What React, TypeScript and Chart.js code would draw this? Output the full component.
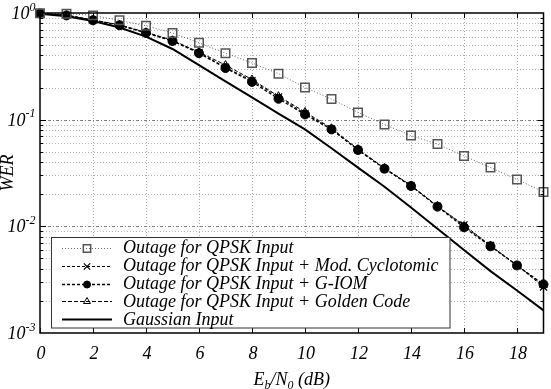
import { useEffect, useRef } from 'react';
import { Chart, registerables } from 'chart.js';
import { drawPoint } from 'chart.js/helpers';

Chart.register(...registerables);

// ---------- data ----------
const snrDb = [0, 1, 2, 3, 4, 5, 6, 7, 8, 9, 10, 11, 12, 13, 14, 15, 16, 17, 18, 19];
const qpskOutage = [0.995, 0.985, 0.95, 0.854, 0.76, 0.65, 0.525, 0.42, 0.34, 0.27, 0.2, 0.156, 0.117, 0.09, 0.071, 0.059, 0.0457, 0.0356, 0.0275, 0.021];
const cyclotomicOutage = [0.99, 0.95, 0.86, 0.77, 0.655, 0.55, 0.425, 0.31, 0.232, 0.163, 0.114, 0.082, 0.052, 0.0347, 0.024, 0.0154, 0.0103, 0.0066, 0.0043, 0.0027];
const giomOutage = [0.99, 0.95, 0.855, 0.767, 0.65, 0.547, 0.42, 0.305, 0.226, 0.157, 0.112, 0.081, 0.052, 0.0347, 0.0239, 0.0153, 0.0098, 0.0065, 0.0043, 0.00286];
const goldenOutage = [0.99, 0.955, 0.86, 0.775, 0.66, 0.555, 0.43, 0.325, 0.238, 0.166, 0.118, 0.083, 0.053, 0.0352, 0.0242, 0.0155, 0.0101, 0.0066, 0.0043, 0.0028];
const gaussianOutage = [0.985, 0.93, 0.84, 0.73, 0.6, 0.46, 0.325, 0.229, 0.162, 0.114, 0.081, 0.054, 0.0355, 0.0235, 0.015, 0.0095, 0.006, 0.0038, 0.0025, 0.00163];

const xTickValues = [0, 2, 4, 6, 8, 10, 12, 14, 16, 18];
const yDecadeValues = [1, 0.1, 0.01, 0.001];
const yDecadeExponents = ['0', '-1', '-2', '-3'];
const seriesLabels = [
  'Outage for QPSK Input',
  'Outage for QPSK Input + Mod. Cyclotomic',
  'Outage for QPSK Input + G-IOM',
  'Outage for QPSK Input + Golden Code',
  'Gaussian Input',
];

const SERIF = '"Liberation Serif", "Times New Roman", serif';

const toPoints = (ys: number[]) => snrDb.map((x, i) => ({ x, y: ys[i] }));

const decorPlugin = {
  id: 'gnuplotDecor',
  beforeDatasetsDraw(chart: any) {
    const { ctx, chartArea: a, scales } = chart;
    const xs = scales.x;
    const ys = scales.y;
    ctx.save();
    ctx.lineWidth = 1;
    // vertical grid
    ctx.strokeStyle = '#a8a8a8';
    ctx.setLineDash([1, 2]);
    for (const v of xTickValues) {
      if (v === 0) continue;
      const px = Math.round(xs.getPixelForValue(v)) + 0.5;
      ctx.beginPath();
      ctx.moveTo(px, a.top);
      ctx.lineTo(px, a.bottom);
      ctx.stroke();
    }
    // horizontal grid
    for (let d = 1; d < yDecadeValues.length; d++) {
      const dec = yDecadeValues[d];
      for (let m = 1; m <= 9; m++) {
        const v = dec * m;
        if (v >= 1 || v <= 0.001 + 1e-12) continue;
        const py = Math.round(ys.getPixelForValue(v)) + 0.5;
        if (m === 1) {
          ctx.strokeStyle = '#808080';
          ctx.setLineDash([3, 2, 1, 2]);
        } else {
          ctx.strokeStyle = '#b4b4b4';
          ctx.setLineDash([1, 2]);
        }
        ctx.beginPath();
        ctx.moveTo(a.left, py);
        ctx.lineTo(a.right, py);
        ctx.stroke();
      }
    }
    ctx.restore();
  },
  afterDatasetsDraw(chart: any) {
    const { ctx, chartArea: a, scales } = chart;
    const xs = scales.x;
    const ys = scales.y;
    ctx.save();
    ctx.setLineDash([]);
    ctx.strokeStyle = '#000';
    ctx.lineWidth = 1;
    // y tick marks (in, mirrored)
    for (let d = 1; d < yDecadeValues.length; d++) {
      const dec = yDecadeValues[d];
      for (let m = 1; m <= 9; m++) {
        const v = dec * m;
        if (v >= 1 || v <= 0.001 + 1e-12) continue;
        const py = Math.round(ys.getPixelForValue(v)) + 0.5;
        const len = m === 1 ? 6 : 3;
        ctx.beginPath();
        ctx.moveTo(a.left, py);
        ctx.lineTo(a.left + len, py);
        ctx.moveTo(a.right, py);
        ctx.lineTo(a.right - len, py);
        ctx.stroke();
      }
    }
    // x tick marks
    for (const v of xTickValues) {
      const px = Math.round(xs.getPixelForValue(v)) + 0.5;
      ctx.beginPath();
      ctx.moveTo(px, a.bottom);
      ctx.lineTo(px, a.bottom - 5);
      ctx.moveTo(px, a.top);
      ctx.lineTo(px, a.top + 5);
      ctx.stroke();
    }
    // frame
    ctx.lineWidth = 1.5;
    ctx.strokeRect(a.left, a.top, a.right - a.left, a.bottom - a.top);

    // legend
    const lx = 51.5, ly = 237.5, lw = 398.5, lh = 90.5;
    ctx.fillStyle = '#fff';
    ctx.fillRect(lx, ly, lw, lh);
    ctx.lineWidth = 1;
    ctx.strokeStyle = '#333';
    ctx.strokeRect(lx, ly, lw, lh);
    ctx.font = `italic 18px ${SERIF}`;
    ctx.textAlign = 'left';
    ctx.textBaseline = 'alphabetic';
    chart.data.datasets.forEach((ds: any, i: number) => {
      const ry = 247.7 + i * 17.9;
      ctx.save();
      ctx.strokeStyle = ds.borderColor;
      ctx.lineWidth = ds.borderWidth;
      ctx.setLineDash(ds.borderDash || []);
      ctx.beginPath();
      ctx.moveTo(62, Math.round(ry) + 0.5);
      ctx.lineTo(112, Math.round(ry) + 0.5);
      ctx.stroke();
      ctx.setLineDash([]);
      if (ds.pointRadius > 0) {
        ctx.strokeStyle = ds.pointBorderColor;
        ctx.fillStyle = ds.pointBackgroundColor;
        ctx.lineWidth = ds.pointBorderWidth;
        drawPoint(ctx, { pointStyle: ds.pointStyle, radius: ds.legendRadius, rotation: 0, borderWidth: ds.pointBorderWidth } as any, 87, Math.round(ry) + 0.5);
      }
      ctx.restore();
      ctx.fillStyle = '#000';
      ctx.fillText(seriesLabels[i], 123, ry + 5.5);
    });

    // x tick labels
    ctx.fillStyle = '#000';
    ctx.font = `italic 18px ${SERIF}`;
    ctx.textAlign = 'center';
    for (const v of xTickValues) {
      const px = xs.getPixelForValue(v);
      ctx.fillText(String(v), px + 1, 358.5);
    }
    // y tick labels: 10^k
    const rightEdge = 35.5;
    yDecadeValues.forEach((v, i) => {
      const py = ys.getPixelForValue(v);
      ctx.font = `italic 12px ${SERIF}`;
      const wSup = ctx.measureText(yDecadeExponents[i]).width;
      ctx.font = `italic 18px ${SERIF}`;
      const wBase = ctx.measureText('10').width;
      ctx.textAlign = 'left';
      ctx.fillText('10', rightEdge - wSup - wBase, py + 6);
      ctx.font = `italic 12px ${SERIF}`;
      ctx.fillText(yDecadeExponents[i], rightEdge - wSup, py - 2.5);
    });
    // y title
    ctx.save();
    ctx.translate(13, (a.top + a.bottom) / 2);
    ctx.rotate(-Math.PI / 2);
    ctx.font = `italic 18px ${SERIF}`;
    ctx.textAlign = 'center';
    ctx.fillText('WER', 0, 0);
    ctx.restore();
    // x title: E_b/N_0 (dB)
    const parts: [string, boolean][] = [['E', false], ['b', true], ['/N', false], ['0', true], [' (dB)', false]];
    const big = `italic 18px ${SERIF}`;
    const small = `italic 12px ${SERIF}`;
    let total = 0;
    for (const [t, sub] of parts) {
      ctx.font = sub ? small : big;
      total += ctx.measureText(t).width;
    }
    let cx = (a.left + a.right) / 2 - total / 2;
    ctx.textAlign = 'left';
    for (const [t, sub] of parts) {
      ctx.font = sub ? small : big;
      ctx.fillText(t, cx, sub ? 389 : 385);
      cx += ctx.measureText(t).width;
    }
    ctx.restore();
  },
};

export default function App() {
  const ref = useRef<HTMLCanvasElement | null>(null);
  useEffect(() => {
    const canvas = ref.current;
    if (!canvas) return;
    const chart = new Chart(canvas, {
      type: 'line',
      data: {
        datasets: [
          {
            label: seriesLabels[0],
            data: toPoints(qpskOutage),
            borderColor: '#666',
            borderWidth: 1,
            borderDash: [1, 2],
            pointStyle: 'rect',
            pointRadius: 6,
            legendRadius: 5.2,
            pointBorderColor: '#555',
            pointBackgroundColor: 'rgba(255,255,255,0)',
            pointBorderWidth: 1.5,
            clip: false,
          } as any,
          {
            label: seriesLabels[1],
            data: toPoints(cyclotomicOutage),
            borderColor: '#000',
            borderWidth: 1,
            borderDash: [3, 2],
            pointStyle: 'crossRot',
            pointRadius: 5,
            legendRadius: 4.5,
            pointBorderColor: '#000',
            pointBackgroundColor: '#000',
            pointBorderWidth: 1.2,
            clip: false,
          } as any,
          {
            label: seriesLabels[2],
            data: toPoints(giomOutage),
            borderColor: '#000',
            borderWidth: 1.3,
            borderDash: [3, 2],
            pointStyle: 'circle',
            pointRadius: 4.5,
            legendRadius: 3.5,
            pointBorderColor: '#000',
            pointBackgroundColor: '#000',
            pointBorderWidth: 1,
            clip: false,
          } as any,
          {
            label: seriesLabels[3],
            data: toPoints(goldenOutage),
            borderColor: '#000',
            borderWidth: 1,
            borderDash: [4, 2],
            pointStyle: 'triangle',
            pointRadius: 4.5,
            legendRadius: 4,
            pointBorderColor: '#000',
            pointBackgroundColor: 'rgba(255,255,255,0)',
            pointBorderWidth: 1,
            clip: false,
          } as any,
          {
            label: seriesLabels[4],
            data: toPoints(gaussianOutage),
            borderColor: '#000',
            borderWidth: 2,
            borderDash: [],
            pointRadius: 0,
            legendRadius: 0,
            clip: false,
          } as any,
        ],
      },
      options: {
        responsive: false,
        animation: false,
        devicePixelRatio: 1,
        layout: { padding: { left: 40, top: 13, right: 5, bottom: 56 } },
        scales: {
          x: { type: 'linear', min: 0, max: 19, display: false },
          y: { type: 'logarithmic', min: 0.001, max: 1, display: false },
        },
        plugins: { legend: { display: false }, tooltip: { enabled: false } },
        elements: { line: { tension: 0 } },
      },
      plugins: [decorPlugin],
    });
    return () => chart.destroy();
  }, []);
  return (
    <div style={{ position: 'absolute', left: 0, top: 0, width: 551, height: 389, background: '#fff' }}>
      <canvas ref={ref} width={551} height={389} style={{ width: 551, height: 389, display: 'block' }} />
    </div>
  );
}
